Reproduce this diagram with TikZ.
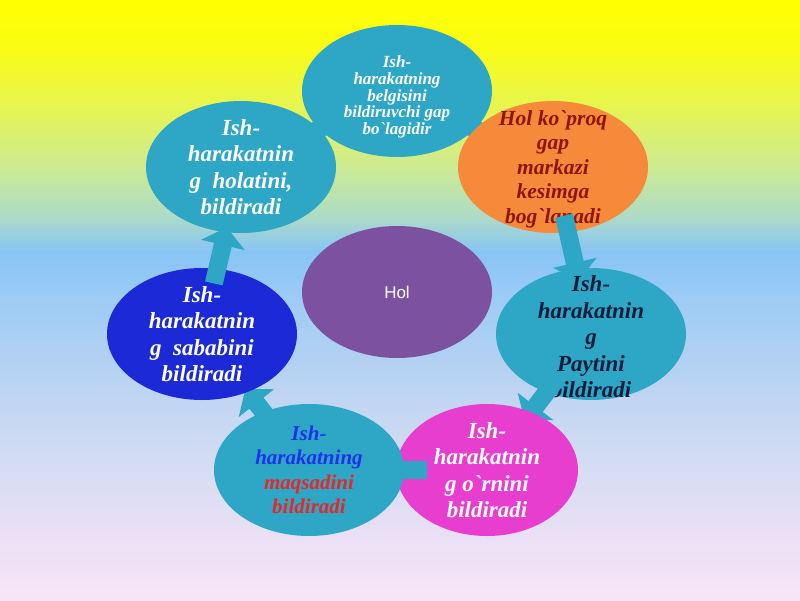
\documentclass[tikz,border=0pt]{standalone}
\usepackage{fontspec}
\setmainfont{Liberation Serif}
\newfontfamily\txtserif{Liberation Serif}
\newfontfamily\holsans{Liberation Sans}
\usetikzlibrary{arrows.meta,shapes.geometric}
\definecolor{tealc}{RGB}{46,167,198}
\definecolor{orangec}{RGB}{246,137,58}
\definecolor{bluec}{RGB}{27,42,214}
\definecolor{pinkc}{RGB}{232,62,208}
\definecolor{purplec}{RGB}{124,82,160}
\definecolor{darkredc}{RGB}{140,22,18}
\definecolor{navyc}{RGB}{18,28,58}
\definecolor{bluetxt}{RGB}{30,50,235}
\definecolor{redtxt}{RGB}{232,38,38}
\pgfdeclareverticalshading{bgshade}{100bp}{rgb(0bp)=(0.97,0.90,0.97); rgb(25bp)=(0.97,0.90,0.97); rgb(30bp)=(0.92,0.88,0.96); rgb(37.5bp)=(0.82,0.86,0.95); rgb(45bp)=(0.70,0.82,0.95); rgb(50bp)=(0.62,0.80,0.96); rgb(54bp)=(0.53,0.77,0.96); rgb(57bp)=(0.68,0.86,0.78); rgb(61bp)=(0.80,0.92,0.58); rgb(66bp)=(0.90,0.96,0.32); rgb(71bp)=(0.98,0.99,0.08); rgb(75bp)=(1,1,0); rgb(100bp)=(1,1,0)}
\pgfdeclarelayer{L0}\pgfdeclarelayer{L1}\pgfdeclarelayer{L2}\pgfdeclarelayer{L3}
\pgfdeclarelayer{L4}\pgfdeclarelayer{L5}\pgfdeclarelayer{L6}\pgfdeclarelayer{L7}
\pgfdeclarelayer{L8}\pgfdeclarelayer{L9}
\pgfsetlayers{L0,L1,L2,L3,L4,L5,L6,L7,L8,L9,main}
\tikzset{
  ell/.style={ellipse, minimum width=190pt, minimum height=132pt, inner sep=0pt, draw=none},
  txt/.style={align=center, inner sep=0pt, font=\txtserif\fontsize{23}{26.5}\selectfont\bfseries\itshape},
  blk/.style={draw=tealc, line width=18pt, -{Triangle[width=44pt,length=18pt]}}
}
\begin{document}
\begin{tikzpicture}[x=1pt,y=-1pt]
\useasboundingbox (0,0) rectangle (800,600);
\begin{pgfonlayer}{L0}
\shade[shading=bgshade] (0,0) rectangle (800,600);
\end{pgfonlayer}
% ellipses
\begin{pgfonlayer}{L1}
\node[ell, fill=tealc] (tl) at (241,167) {};
\node[txt, text=white] (ttl) at (tl.center) {Ish-\\harakatnin\\g\ \ holatini,\\bildiradi};
\node[ell, fill=orangec] (orange) at (553,167) {};
\node[txt, text=darkredc, font=\txtserif\fontsize{21.5}{24.5}\selectfont\bfseries\itshape] (torange) at ([yshift=-2pt]orange.center) {Hol ko`proq\\gap\\markazi\\kesimga\\bog`lanadi};
\node[ell, fill=tealc] (top) at (397,91) {};
\node[txt, text=white, font=\txtserif\fontsize{17}{16.8}\selectfont\bfseries\itshape] (ttop) at ([yshift=-6pt]top.center) {Ish-\\harakatning\\belgisini\\bildiruvchi gap\\bo`lagidir};
\end{pgfonlayer}
\begin{pgfonlayer}{L3}
\node[ell, fill=tealc] (right) at (591,334) {};
\node[txt, text=navyc] (tright) at ([yshift=-3pt]right.center) {Ish-\\harakatnin\\g\\Paytini\\bildiradi};
\end{pgfonlayer}
\begin{pgfonlayer}{L5}
\node[ell, fill=pinkc, minimum width=182pt] (pink) at (487,470) {};
\node[txt, text=white] (tpink) at (pink.center) {Ish-\\harakatnin\\g o`rnini\\bildiradi};
\end{pgfonlayer}
\begin{pgfonlayer}{L7}
\node[ell, fill=tealc] (bottom) at (309,470) {};
\node[txt, font=\txtserif\fontsize{21}{24.5}\selectfont\bfseries\itshape] (tbottom) at (bottom.center) {\textcolor{bluetxt}{Ish-}\\\textcolor{bluetxt}{harakatning}\\\textcolor{redtxt}{maqsadini}\\\textcolor{redtxt}{bildiradi}};
\end{pgfonlayer}
\begin{pgfonlayer}{L9}
\node[ell, fill=bluec] (blue) at (202,334) {};
\node[txt, text=white] (tblue) at (blue.center) {Ish-\\harakatnin\\g\ \ sababini\\bildiradi};
\end{pgfonlayer}
\node[ell, fill=purplec] (hol) at (397,292) {};
\node[text=white, font=\holsans\fontsize{17}{20}\selectfont] (thol) at (hol.center) {Hol};
% arrows
\begin{pgfonlayer}{L0}
\draw[blk, shorten <=52pt, shorten >=50pt] (tl.center) -- (top.center);
\draw[blk, shorten <=52pt, shorten >=50pt] (top.center) -- (orange.center);
\end{pgfonlayer}
\begin{pgfonlayer}{L2}
\draw[blk, shorten <=50pt, shorten >=55pt] (orange.center) -- (right.center);
\end{pgfonlayer}
\begin{pgfonlayer}{L4}
\draw[blk, shorten <=55pt, shorten >=62pt] (right.center) -- (pink.center);
\end{pgfonlayer}
\begin{pgfonlayer}{L6}
\draw[blk, shorten <=60pt, shorten >=72pt] (pink.center) -- (bottom.center);
\end{pgfonlayer}
\begin{pgfonlayer}{L8}
\draw[blk, shorten <=50pt, shorten >=70pt] (bottom.center) -- (blue.center);
\end{pgfonlayer}
\draw[blk, shorten <=52pt, shorten >=62pt] (blue.center) -- (tl.center);
\end{tikzpicture}
\end{document}
